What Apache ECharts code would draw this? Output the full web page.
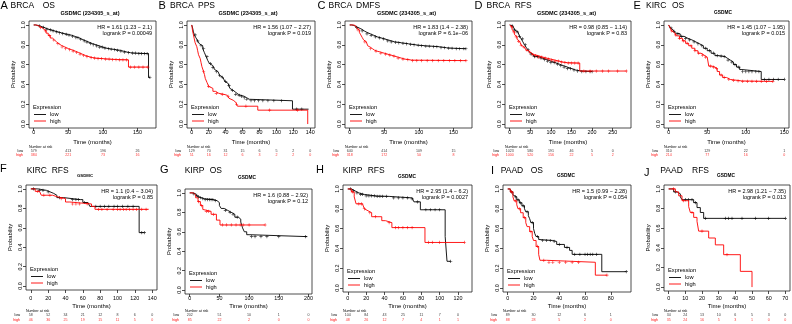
<!DOCTYPE html>
<html><head><meta charset="utf-8">
<script src="https://cdn.jsdelivr.net/npm/echarts@6/dist/echarts.min.js"></script>
<style>html,body{margin:0;padding:0;background:#fff}#c{width:792px;height:324px}</style>
</head><body><div id="c"></div>
<script>
const FONT = '"Liberation Sans", Arial, sans-serif';

// ---------------- data ----------------
const panelLetters = ['A','B','C','D','E','F','G','H','I','J'];
const cancerTypes  = ['BRCA','BRCA','BRCA','BRCA','KIRC','KIRC','KIRP','KIRP','PAAD','PAAD'];
const endpoints    = ['OS','PPS','DMFS','RFS','OS','RFS','OS','RFS','OS','RFS'];
const probeLabels  = ['GSDMC (234305_s_at)','GSDMC (234305_s_at)','GSDMC (234305_s_at)','GSDMC (234305_s_at)','GSDMC','GSDMC','GSDMC','GSDMC','GSDMC','GSDMC'];
const hrTexts = ['HR = 1.61 (1.23 \u2212 2.1)','HR = 1.56 (1.07 \u2212 2.27)','HR = 1.83 (1.4 \u2212 2.38)','HR = 0.98 (0.85 \u2212 1.14)','HR = 1.45 (1.07 \u2212 1.95)','HR = 1.1 (0.4 \u2212 3.04)','HR = 1.6 (0.88 \u2212 2.92)','HR = 2.95 (1.4 \u2212 6.2)','HR = 1.5 (0.99 \u2212 2.28)','HR = 2.98 (1.21 \u2212 7.35)'];
const pTexts = ['logrank P = 0.00049','logrank P = 0.019','logrank P = 6.1e\u221206','logrank P = 0.83','logrank P = 0.015','logrank P = 0.85','logrank P = 0.12','logrank P = 0.0027','logrank P = 0.054','logrank P = 0.013'];
const timeMax = [170,140,170,283,150,140,198,130,92,70];
const yTicks = [0,0.2,0.4,0.6,0.8,1.0];

// A  BRCA OS
const A_ticks = [0,50,100,150];
const A_low = [[0,1],[3,0.995],[6,0.99],[9,0.982],[12,0.975],[15,0.966],[18,0.958],[21,0.95],[25,0.94],[30,0.93],[35,0.921],[40,0.912],[45,0.905],[50,0.896],[55,0.884],[60,0.871],[65,0.856],[70,0.84],[75,0.826],[80,0.812],[85,0.8],[90,0.789],[95,0.776],[100,0.766],[105,0.76],[110,0.755],[115,0.75],[120,0.744],[125,0.735],[130,0.726],[135,0.72],[140,0.715],[150,0.71],[166,0.47],[168,0.47]];
const A_high = [[0,1],[3,0.995],[6,0.985],[9,0.972],[12,0.956],[15,0.94],[18,0.917],[21,0.893],[24,0.868],[27,0.848],[30,0.83],[33,0.812],[36,0.794],[40,0.778],[45,0.762],[50,0.75],[55,0.736],[60,0.722],[65,0.706],[70,0.692],[75,0.68],[80,0.671],[85,0.665],[90,0.66],[100,0.655],[110,0.651],[120,0.648],[137,0.575],[165,0.575]];
const A_lowCens = [8,14,19,24,28,33,37,42,47,51,56,61,64,68,73,77,82,86,91,95,99,103,108,112,117,121,126,131,137,143,147,152,156,160,164,168];
const A_highCens = [10,17,23,29,35,41,46,52,57,62,67,72,77,83,88,93,98,104,109,114,119,124,129,134,140,146,152,158,165];
const A_riskLow = [579,413,196,26];
const A_riskHigh = [384,221,73,16];

// B  BRCA PPS
const B_ticks = [0,20,40,60,80,100,120,140];
const B_low = [[0,1],[1,0.97],[2,0.93],[3,0.9],[5,0.87],[7,0.84],[9,0.81],[11,0.79],[13,0.76],[15,0.72],[17,0.68],[19,0.64],[21,0.61],[23,0.59],[25,0.57],[27,0.55],[29,0.53],[31,0.51],[33,0.49],[35,0.47],[37,0.45],[39,0.43],[41,0.41],[43,0.39],[45,0.36],[47,0.34],[49,0.32],[52,0.3],[55,0.29],[58,0.28],[62,0.265],[65,0.25],[68,0.235],[119,0.15],[138,0.15]];
const B_high = [[0,1],[1,0.94],[2,0.9],[3,0.86],[4,0.82],[6,0.78],[7,0.74],[8,0.7],[10,0.66],[11,0.62],[12,0.58],[14,0.53],[15,0.5],[16,0.46],[18,0.42],[20,0.38],[22,0.36],[25,0.33],[28,0.31],[32,0.3],[38,0.29],[42,0.28],[44,0.26],[46,0.24],[49,0.22],[52,0.2],[54,0.18],[78,0.14],[137,0]];
const B_lowCens = [4,7,11,14,18,22,25,29,33,36,40,44,48,52,56,59,62,65,70,74,79,84,90,97,106,124,130];
const B_highCens = [14,20,29,36,43,53,64,92,125];
const B_riskLow = [129,70,31,15,6,5,2,0];
const B_riskHigh = [51,16,12,6,3,2,2,0];

// C  BRCA DMFS
const C_ticks = [0,50,100,150];
const C_low = [[0,1],[3,0.995],[6,0.985],[9,0.975],[12,0.965],[15,0.955],[18,0.94],[21,0.925],[25,0.91],[30,0.895],[35,0.88],[40,0.87],[45,0.86],[50,0.85],[55,0.84],[60,0.83],[65,0.825],[70,0.82],[75,0.815],[80,0.81],[85,0.805],[90,0.8],[95,0.795],[100,0.79],[110,0.785],[120,0.78],[130,0.77],[140,0.765],[150,0.76],[168,0.76]];
const C_high = [[0,1],[5,0.995],[8,0.985],[10,0.97],[12,0.95],[14,0.925],[16,0.9],[18,0.875],[20,0.85],[22,0.83],[24,0.81],[26,0.79],[28,0.775],[30,0.76],[33,0.745],[36,0.735],[40,0.725],[45,0.715],[50,0.705],[55,0.695],[60,0.685],[65,0.675],[70,0.665],[75,0.655],[80,0.65],[85,0.645],[90,0.64],[168,0.64]];
const C_lowCens = [10,18,25,31,37,43,49,55,60,66,71,77,82,88,93,99,104,110,115,121,126,132,137,143,148,154,159,165,168];
const C_highCens = [12,22,30,38,45,52,58,64,70,77,84,91,97,104,112,120,128,136,144,152,160,168];
const C_riskLow = [640,414,109,15];
const C_riskHigh = [318,172,50,8];

// D  BRCA RFS
const D_ticks = [0,50,100,150,200,250];
const D_low = [[0,1],[4,0.99],[8,0.97],[12,0.95],[16,0.93],[20,0.91],[24,0.885],[28,0.86],[32,0.83],[36,0.8],[40,0.775],[44,0.75],[48,0.725],[52,0.705],[56,0.69],[60,0.68],[70,0.665],[80,0.65],[90,0.635],[100,0.62],[110,0.605],[120,0.59],[130,0.575],[140,0.56],[150,0.545],[160,0.535],[175,0.53],[200,0.53]];
const D_high = [[0,1],[3,0.98],[6,0.95],[9,0.93],[12,0.9],[15,0.88],[18,0.855],[21,0.835],[24,0.815],[28,0.795],[32,0.775],[36,0.76],[40,0.745],[45,0.725],[50,0.71],[55,0.7],[60,0.69],[70,0.675],[80,0.665],[90,0.655],[100,0.645],[110,0.635],[120,0.625],[130,0.62],[140,0.615],[170,0.535],[283,0.535]];
const D_lowCens = [6,12,18,24,31,38,45,52,60,68,76,84,92,100,108,116,124,132,140,148,156,165,175,185,195,200];
const D_highCens = [5,10,16,22,28,35,42,49,56,63,70,78,86,94,102,110,118,126,134,142,150,158,166,180,195,210,225,240,262,283];
const D_riskLow = [1023,580,191,46,5,0];
const D_riskHigh = [1000,520,156,22,5,2];

// E  KIRC OS
const E_ticks = [0,50,100,150];
const E_low = [[0,1],[2,0.97],[4,0.95],[6,0.935],[8,0.92],[10,0.91],[15,0.885],[20,0.865],[25,0.85],[30,0.83],[35,0.81],[40,0.79],[45,0.765],[50,0.74],[55,0.715],[60,0.69],[65,0.685],[70,0.68],[73,0.665],[76,0.645],[80,0.625],[84,0.6],[88,0.575],[92,0.55],[95,0.53],[120,0.45],[150,0.45]];
const E_high = [[0,1],[2,0.97],[4,0.94],[6,0.92],[8,0.9],[10,0.89],[14,0.865],[18,0.84],[22,0.815],[26,0.79],[30,0.765],[34,0.74],[38,0.715],[42,0.695],[46,0.675],[50,0.66],[52,0.585],[56,0.575],[60,0.56],[63,0.53],[66,0.495],[70,0.47],[75,0.45],[80,0.44],[90,0.435],[95,0.43],[135,0.43]];
const E_lowCens = [3,7,12,17,22,27,33,38,43,48,53,58,63,68,72,77,82,86,91,96,100,104,108,113,117,124,130,136,142,150];
const E_highCens = [4,9,14,19,24,29,34,39,44,48,54,58,62,68,72,78,84,90,96,102,108,114,120,127,135];
const E_riskLow = [310,129,22,1];
const E_riskHigh = [214,77,16,0];

// F  KIRC RFS
const F_ticks = [0,20,40,60,80,100,120,140];
const F_low = [[0,1],[8,0.985],[18,0.97],[22,0.955],[26,0.935],[30,0.91],[38,0.89],[57,0.89],[60,0.86],[66,0.84],[68,0.82],[125,0.55],[131,0.55]];
const F_high = [[0,1],[5,0.975],[10,0.955],[12,0.935],[25,0.92],[30,0.9],[40,0.865],[45,0.845],[70,0.82],[74,0.79],[136,0.79]];
const F_lowCens = [3,10,14,20,33,48,52,55,62,75,80,85,90,96,100,106,112,118,128,131];
const F_highCens = [8,15,22,35,48,52,56,65,78,82,88,95,100,103,107,110,114,118,122,128,133];
const F_riskLow = [58,52,34,21,12,8,6,0];
const F_riskHigh = [46,36,25,19,15,11,5,0];

// G  KIRP OS
const G_ticks = [0,50,100,150,200];
const G_low = [[0,1],[5,0.99],[10,0.975],[13,0.96],[16,0.95],[20,0.94],[25,0.93],[40,0.92],[46,0.9],[50,0.87],[53,0.84],[58,0.82],[64,0.8],[70,0.78],[76,0.75],[82,0.73],[86,0.7],[89,0.64],[92,0.6],[96,0.57],[100,0.55],[198,0.55]];
const G_high = [[0,1],[6,0.98],[10,0.95],[14,0.91],[18,0.87],[22,0.83],[25,0.81],[36,0.78],[45,0.72],[51,0.67],[127,0.67]];
const G_lowCens = [7,12,15,18,22,26,30,33,36,39,43,60,68,73,80,104,110,120,130,150,195];
const G_highCens = [15,20,28,32,40,55,62,70,78,85,90,100,127];
const G_riskLow = [202,51,10,1,0];
const G_riskHigh = [85,22,2,0,0];

// H  KIRP RFS
const H_ticks = [0,20,40,60,80,100,120];
const H_low = [[0,1],[4,0.98],[8,0.96],[12,0.945],[18,0.93],[30,0.925],[45,0.91],[70,0.9],[72,0.87],[79,0.79],[106,0.52],[108,0.27],[112,0.27]];
const H_high = [[0,1],[4,0.97],[7,0.92],[9,0.85],[16,0.83],[18,0.8],[20,0.78],[22,0.76],[26,0.72],[37,0.68],[41,0.66],[48,0.61],[84,0.46],[127,0.46]];
const H_lowCens = [3,6,10,14,16,20,23,26,29,32,35,38,42,50,55,60,65,70,76,85,90,95,100,112];
const H_highCens = [5,12,15,18,24,30,45,52,55,60,65,70,88,92,100,127];
const H_riskLow = [104,84,43,25,11,7,0];
const H_riskHigh = [48,26,12,7,4,1,1];

// I  PAAD OS
const I_ticks = [0,20,40,60,80];
const I_low = [[0,1],[2,0.97],[4,0.94],[5,0.92],[7,0.89],[9,0.86],[11,0.83],[13,0.8],[14,0.77],[16,0.73],[17,0.7],[18,0.66],[20,0.6],[21,0.55],[22,0.52],[24,0.49],[25,0.48],[35,0.47],[38,0.44],[44,0.41],[48,0.38],[50,0.34],[73,0.165],[92,0.165]];
const I_high = [[0,1],[2,0.97],[4,0.92],[5,0.88],[7,0.84],[8,0.8],[10,0.76],[12,0.71],[14,0.66],[15,0.62],[17,0.57],[19,0.52],[20,0.48],[22,0.42],[24,0.34],[25,0.28],[30,0.26],[68,0.13],[77,0.13]];
const I_lowCens = [3,6,8,10,12,15,19,23,27,30,33,36,40,46,52,56,60,62,64,66,69,92];
const I_highCens = [3,6,9,13,18,23,28,32,35,40,45,50,55,77];
const I_riskLow = [89,30,12,6,1];
const I_riskHigh = [88,28,5,2,0];

// J  PAAD RFS
const J_ticks = [0,10,20,30,40,50,60,70];
const J_low = [[0,1],[3,0.97],[5,0.95],[7,0.92],[8,0.89],[15,0.86],[17,0.81],[19,0.76],[21,0.7],[70,0.7]];
const J_high = [[0,1],[4,0.97],[6,0.93],[8,0.88],[12,0.82],[13,0.76],[15,0.71],[17,0.67],[18,0.57],[24,0.5],[28,0.43],[33,0.33],[43,0.16],[50,0]];
const J_lowCens = [4,10,12,14,16,22,34,36,38,44,52,60,70];
const J_highCens = [3,9,14,20,35];
const J_riskLow = [34,24,13,10,6,5,3,0];
const J_riskHigh = [35,24,16,5,3,1,0,0];

// ---------------- layout ----------------
const boxes = [[29,21,156,128],[187,21,315,128],[345,21,472,128],[505,21,631,128],[664,21,789,128],
               [26,185,157,290],[185,189,312,294],[343,185,472,292],[503,185,631,292],[664,185,790,291]];
const rows = [{label:133, time:142, nar:146.5, low:151, high:155, title:5.8},
              {label:298.5, time:306, nar:311, low:315.3, high:319.5, title:171}];
const titlePos = [[0.5,10.5,42.7,90,'center'],[158.5,170,198,248,'center'],[317.5,328.5,356,406.5,'center'],[474.5,486.5,514.7,566.5,'center'],[633.5,646,672,723,'center'],
                  [0,26.7,51.7,77,'left'],[160,184.7,209.7,238,'left'],[316,342.7,367.7,398,'left'],[491,500.7,530.7,557,'left'],[644,660.3,692,717,'left']];
const letterY = [5.8,5.8,5.8,5.8,6.2,169,169.5,170,171,172.5];
const subY = [13.3,13.3,13.3,13.3,13,176,178,177,176,176];

const panels = [
  [A_low,A_high,A_lowCens,A_highCens,A_ticks,A_riskLow,A_riskHigh],
  [B_low,B_high,B_lowCens,B_highCens,B_ticks,B_riskLow,B_riskHigh],
  [C_low,C_high,C_lowCens,C_highCens,C_ticks,C_riskLow,C_riskHigh],
  [D_low,D_high,D_lowCens,D_highCens,D_ticks,D_riskLow,D_riskHigh],
  [E_low,E_high,E_lowCens,E_highCens,E_ticks,E_riskLow,E_riskHigh],
  [F_low,F_high,F_lowCens,F_highCens,F_ticks,F_riskLow,F_riskHigh],
  [G_low,G_high,G_lowCens,G_highCens,G_ticks,G_riskLow,G_riskHigh],
  [H_low,H_high,H_lowCens,H_highCens,H_ticks,H_riskLow,H_riskHigh],
  [I_low,I_high,I_lowCens,I_highCens,I_ticks,I_riskLow,I_riskHigh],
  [J_low,J_high,J_lowCens,J_highCens,J_ticks,J_riskLow,J_riskHigh]
];

const BLACK = '#000000', RED = '#ff0000';
const PLUS = 'path://M4,0H6V4H10V6H6V10H4V6H0V4H4Z';

function survAt(curve, t) {
  let s = curve[0][1];
  for (const p of curve) { if (p[0] <= t) s = p[1]; }
  return s;
}
function txt(x, y, text, size, opts) {
  opts = opts || {};
  return { type:'text', x:x, y:y, silent:true,
    style:{ text:text, fontSize:size, fontFamily:FONT, fontWeight:opts.bold?'bold':'normal',
      fill:opts.color||'#000', align:opts.align||'left', textAlign:opts.align||'left',
      verticalAlign:'middle', textVerticalAlign:'middle' } };
}

const grid = [], xAxis = [], yAxis = [], series = [], elements = [];

panels.forEach((p, i) => {
  const [low, high, lowC, highC, ticks, rl, rh] = p;
  const [l, t, r, b] = boxes[i];
  const row = i < 5 ? rows[0] : rows[1];
  const tm = timeMax[i];
  const xmin = -0.04 * tm, xmax = 1.04 * tm;
  const gi = grid.length;
  grid.push({ left:l, top:t, width:r-l, height:b-t, show:true, borderColor:'#222', borderWidth:0.8 });
  xAxis.push({ gridIndex:gi, type:'value', min:xmin, max:xmax,
    axisLine:{show:false, onZero:false},
    axisTick:{show:true, length:3, customValues:ticks, lineStyle:{color:'#222', width:0.8}},
    axisLabel:{customValues:ticks, fontSize:5.4, fontFamily:FONT, color:'#000', margin:row.label-b-2.9},
    splitLine:{show:false},
    name:'Time (months)', nameLocation:'middle', nameGap:row.time-b-3,
    nameTextStyle:{fontSize:6, fontFamily:FONT, color:'#000'} });
  yAxis.push({ gridIndex:gi, type:'value', min:-0.04, max:1.04,
    axisLine:{show:false, onZero:false},
    axisTick:{show:true, length:3, customValues:yTicks, lineStyle:{color:'#222', width:0.8}},
    axisLabel:{customValues:yTicks, rotate:90, fontSize:5.4, fontFamily:FONT, color:'#000', margin:3,
      formatter:(v)=>Number(v).toFixed(1)},
    splitLine:{show:false},
    name:'Probability', nameLocation:'middle', nameGap:13, nameRotate:90,
    nameTextStyle:{fontSize:5.8, fontFamily:FONT, color:'#000'} });

  series.push({ type:'line', xAxisIndex:gi, yAxisIndex:gi, data:low, step:'end', symbol:'none',
    lineStyle:{color:BLACK, width:0.9}, silent:true, z:2 });
  series.push({ type:'scatter', xAxisIndex:gi, yAxisIndex:gi, data:lowC.map(c=>[c, survAt(low,c)]),
    symbol:PLUS, symbolSize:3.2, itemStyle:{color:BLACK}, silent:true, z:2 });
  series.push({ type:'line', xAxisIndex:gi, yAxisIndex:gi, data:high, step:'end', symbol:'none',
    lineStyle:{color:RED, width:0.9}, silent:true, z:3 });
  series.push({ type:'scatter', xAxisIndex:gi, yAxisIndex:gi, data:highC.map(c=>[c, survAt(high,c)]),
    symbol:PLUS, symbolSize:3.2, itemStyle:{color:RED}, silent:true, z:3 });

  // risk table grid
  const band = row.high - row.low;
  const gr = grid.length;
  grid.push({ left:l, top:row.low - band/2, width:r-l, height:2*band, show:false });
  xAxis.push({ gridIndex:gr, type:'value', min:xmin, max:xmax, show:false });
  yAxis.push({ gridIndex:gr, type:'category', data:['high','low'],
    axisLine:{show:false}, axisTick:{show:false}, splitLine:{show:false},
    axisLabel:{interval:0, hideOverlap:false, fontSize:3.6, fontFamily:FONT, margin:6,
      color:(v)=> v==='high'?RED:BLACK} });
  series.push({ type:'scatter', xAxisIndex:gr, yAxisIndex:gr, symbolSize:1,
    itemStyle:{color:'rgba(0,0,0,0)'}, silent:true, clip:false,
    data:ticks.map((tk,k)=>[tk, 1, rl[k]]),
    label:{show:true, position:'inside', formatter:(d)=>String(d.value[2]), fontSize:3.6, fontFamily:FONT, color:BLACK},
    labelLayout:{hideOverlap:false} });
  series.push({ type:'scatter', xAxisIndex:gr, yAxisIndex:gr, symbolSize:1,
    itemStyle:{color:'rgba(0,0,0,0)'}, silent:true, clip:false,
    data:ticks.map((tk,k)=>[tk, 0, rh[k]]),
    label:{show:true, position:'inside', formatter:(d)=>String(d.value[2]), fontSize:3.6, fontFamily:FONT, color:RED},
    labelLayout:{hideOverlap:false} });

  // texts
  const tp = titlePos[i];
  elements.push(txt(tp[0], letterY[i], panelLetters[i], 11));
  elements.push(txt(tp[1], row.title, cancerTypes[i], 8.5));
  elements.push(txt(tp[2], row.title, endpoints[i], 8.5));
  elements.push(txt(tp[3], subY[i], probeLabels[i], i===5?4.3:(i<4?5.6:4.8), {bold:true, align:tp[4]}));
  elements.push(txt(r-4, t+6, hrTexts[i], 5.5, {align:'right'}));
  elements.push(txt(r-4, t+12.3, pTexts[i], 5.5, {align:'right'}));
  elements.push(txt(l, row.nar, 'Number at risk', 3.6));
  // legend
  elements.push(txt(l+4, b-20.5, 'Expression', 5.7));
  elements.push({ type:'line', silent:true, shape:{x1:l+5, y1:b-13.5, x2:l+17, y2:b-13.5}, style:{stroke:BLACK, lineWidth:0.9} });
  elements.push(txt(l+21, b-13.5, 'low', 5.7));
  elements.push({ type:'line', silent:true, shape:{x1:l+5, y1:b-7, x2:l+17, y2:b-7}, style:{stroke:RED, lineWidth:0.9} });
  elements.push(txt(l+21, b-7, 'high', 5.7));
});

const chart = echarts.init(document.getElementById('c'), null, {renderer:'canvas'});
chart.setOption({
  animation:false,
  backgroundColor:'#ffffff',
  textStyle:{fontFamily:FONT},
  grid:grid, xAxis:xAxis, yAxis:yAxis, series:series,
  graphic:{elements:elements}
});
</script></body></html>
